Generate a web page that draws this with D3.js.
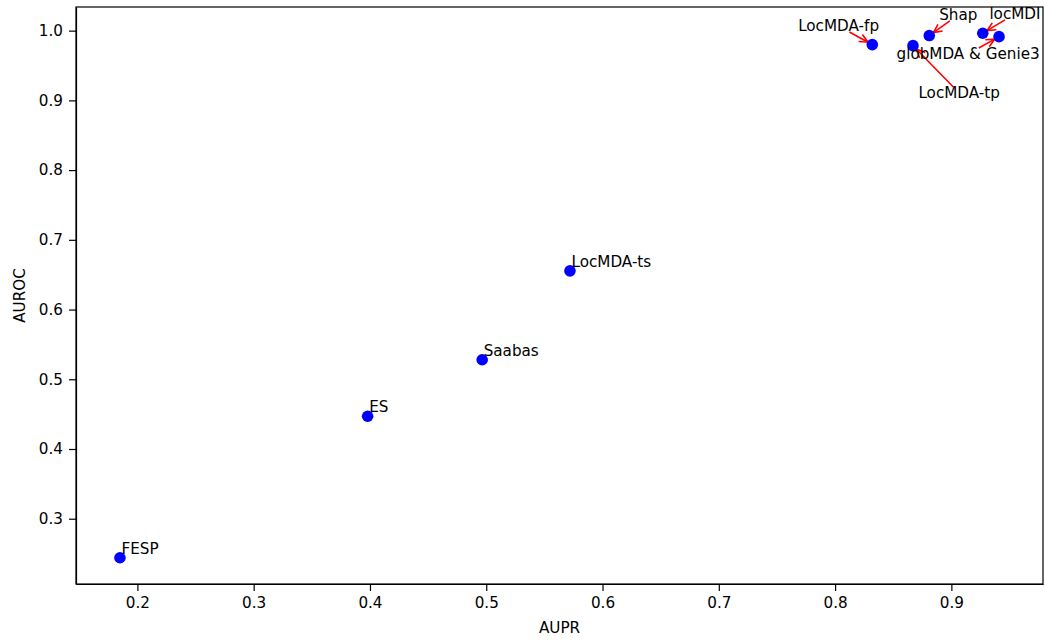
<!DOCTYPE html>
<meta charset="utf-8">
<title>AUPR vs AUROC</title>
<html>
<style>
body { margin: 0; background: #fff; }
svg { font-family: "DejaVu Sans", sans-serif; font-size: 15.2px; }
.axis path, .axis line { stroke: #000; stroke-width: 1.2px; }
</style>
<body>
<svg width="1046" height="640"></svg>
<script src="https://d3js.org/d3.v7.min.js"></script>
<script>
// methods and their scores
var methods = ["FESP", "ES", "Saabas", "LocMDA-ts", "LocMDA-fp", "LocMDA-tp", "Shap", "locMDI", "globMDA & Genie3"];
var aupr    = [0.185, 0.398, 0.4965, 0.572, 0.832, 0.867, 0.881, 0.927, 0.941];
var auroc   = [0.244, 0.447, 0.528, 0.6555, 0.980, 0.9785, 0.993, 0.9963, 0.9914];

// labels that were pushed away and get an arrow (label centre in data units)
var movedLabels = ["LocMDA-fp", "LocMDA-tp", "Shap", "locMDI", "globMDA & Genie3"];
var movedX      = [0.803, 0.9067, 0.906, 0.9547, 0.9144];
var movedY      = [1.0067, 0.9106, 1.0225, 1.024, 0.9666];

var xTicks = [0.2, 0.3, 0.4, 0.5, 0.6, 0.7, 0.8, 0.9];
var yTicks = [0.3, 0.4, 0.5, 0.6, 0.7, 0.8, 0.9, 1.0];

var svg = d3.select("svg"),
  margin = {top: 7, right: 3, bottom: 56, left: 76},
  width = +svg.attr("width") - margin.left - margin.right,
  height = +svg.attr("height") - margin.top - margin.bottom,
  g = svg.append("g").attr("transform", "translate(" + margin.left + "," + margin.top + ")");

function padded(arr) {
  var lo = d3.min(arr), hi = d3.max(arr), m = (hi - lo) * 0.05;
  return [lo - m, hi + m];
}

var x = d3.scaleLinear().domain(padded(aupr)).range([0, width]);
var y = d3.scaleLinear().domain(padded(auroc)).range([height, 0]);

svg.append("defs").append("marker")
  .attr("id", "head")
  .attr("viewBox", "0 0 10 10")
  .attr("refX", 9.5).attr("refY", 5)
  .attr("markerWidth", 10).attr("markerHeight", 10)
  .attr("markerUnits", "userSpaceOnUse")
  .attr("orient", "auto")
  .append("path")
  .attr("d", "M1,1 L9.5,5 L1,9")
  .attr("fill", "none")
  .attr("stroke", "red")
  .attr("stroke-width", 1.6);

// axes
var xAxis = g.append("g")
  .attr("class", "axis")
  .attr("transform", "translate(0," + height + ")")
  .call(d3.axisBottom(x).tickValues(xTicks).tickFormat(d3.format(".1f")).tickSize(7).tickSizeOuter(0).tickPadding(6));

var yAxis = g.append("g")
  .attr("class", "axis")
  .call(d3.axisLeft(y).tickValues(yTicks).tickFormat(d3.format(".1f")).tickSize(7).tickSizeOuter(0).tickPadding(6));

[xAxis, yAxis].forEach(function(a) {
  a.attr("font-size", null).attr("font-family", null);
  a.selectAll("text").attr("fill", "#000");
});

g.append("rect")
  .attr("width", width).attr("height", height)
  .attr("fill", "none").attr("stroke", "#000").attr("stroke-width", 1.2);

// axis titles
svg.append("text")
  .attr("x", margin.left + width / 2).attr("y", 633)
  .attr("text-anchor", "middle")
  .text("AUPR");

svg.append("text")
  .attr("transform", "translate(25," + (margin.top + height / 2) + ") rotate(-90)")
  .attr("text-anchor", "middle")
  .text("AUROC");

// points
var pts = methods.map(function(m, i) { return {name: m, x: aupr[i], y: auroc[i]}; });

g.selectAll("circle")
  .data(pts)
  .enter().append("circle")
  .attr("cx", function(d) { return x(d.x); })
  .attr("cy", function(d) { return y(d.y); })
  .attr("r", 5.8)
  .attr("fill", "#0000ff");

// labels sitting right on their point
g.selectAll("text.plain")
  .data(pts.filter(function(d) { return movedLabels.indexOf(d.name) < 0; }))
  .enter().append("text")
  .attr("class", "plain")
  .attr("x", function(d) { return x(d.x) + 1.5; })
  .attr("y", function(d) { return y(d.y) - 4; })
  .text(function(d) { return d.name; });

// moved labels with arrows
movedLabels.forEach(function(name, i) {
  var p = pts[methods.indexOf(name)];
  var tx = x(movedX[i]), ty = y(movedY[i]);
  var t = g.append("text")
    .attr("x", tx).attr("y", ty)
    .attr("text-anchor", "middle")
    .attr("dy", "0.35em")
    .text(name);
  var bb = t.node().getBBox();
  var px = x(p.x), py = y(p.y);
  var dx = px - tx, dy = py - ty;
  var hw = bb.width / 2 - 2, hh = bb.height / 2 - 3;
  var s = Math.min(Math.abs(dx) > 0 ? hw / Math.abs(dx) : 1e9, Math.abs(dy) > 0 ? hh / Math.abs(dy) : 1e9);
  s = Math.min(s, 0.9);
  var len = Math.sqrt(dx * dx + dy * dy);
  var e = 1 - 5 / len;
  g.insert("line", "circle")
    .attr("x1", tx + dx * s).attr("y1", ty + dy * s)
    .attr("x2", tx + dx * e).attr("y2", ty + dy * e)
    .attr("stroke", "red").attr("stroke-width", 1.6)
    .attr("marker-end", "url(#head)");
});
</script>
</body>
</html>
